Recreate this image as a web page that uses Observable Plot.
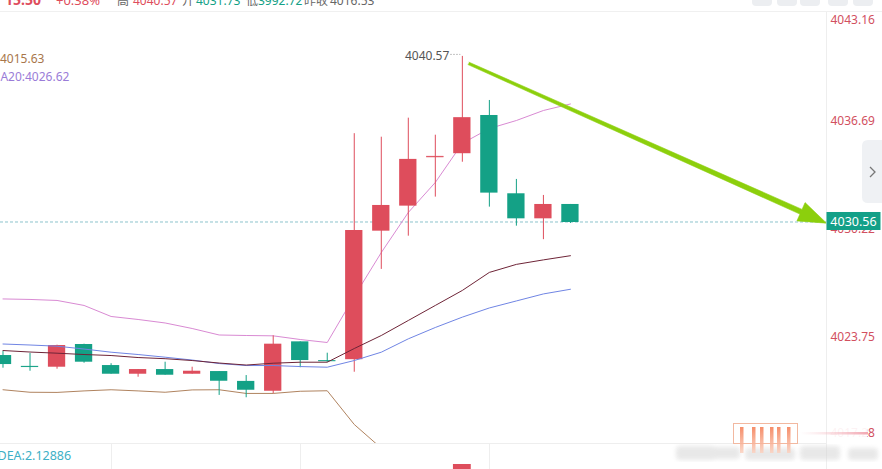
<!DOCTYPE html>
<html><head><meta charset="utf-8">
<script src="https://cdn.jsdelivr.net/npm/d3@7"></script>
<script src="https://cdn.jsdelivr.net/npm/@observablehq/plot@0.6"></script>
<style>
html,body{margin:0;padding:0;background:#fff;overflow:hidden}
#chart{position:relative;width:882px;height:469px;overflow:hidden}
</style></head><body><div id="chart"></div>
<script>
// ---- data ----
const openP  = [4022.65,4022.00,4021.95,4023.31,4022.05,4021.53,4021.81,4021.53,4021.69,4021.10,4020.51,4023.47,4022.35,4022.40,4030.10,4031.60,4034.54,4034.74,4037.03,4032.34,4030.84,4031.70];
const closeP = [4022.11,4021.98,4023.25,4022.25,4021.53,4021.81,4021.47,4021.71,4021.11,4020.57,4023.33,4022.35,4022.33,4030.14,4031.64,4034.40,4034.58,4036.90,4032.38,4030.84,4031.70,4030.62];
const highP  = [4022.89,4022.77,4023.27,4023.33,4022.16,4021.81,4022.25,4021.95,4021.69,4021.45,4023.83,4023.47,4022.79,4035.94,4035.73,4036.87,4035.85,4040.57,4037.93,4033.20,4032.24,4031.70];
const lowP   = [4021.89,4021.71,4021.83,4022.19,4021.53,4021.35,4021.47,4021.53,4020.26,4020.12,4020.36,4021.92,4022.23,4021.65,4027.81,4029.80,4032.14,4034.23,4031.54,4030.40,4029.59,4030.56];
const bollUp  = [4026.04,4026.01,4025.95,4025.65,4024.99,4024.81,4024.60,4024.27,4023.88,4023.85,4023.83,4023.61,4023.43,4026.19,4028.82,4031.22,4033.02,4035.36,4036.25,4036.73,4037.33,4037.72];
const ma20    = [4023.34,4023.28,4023.21,4023.04,4022.85,4022.71,4022.55,4022.38,4022.17,4022.05,4022.05,4021.99,4021.95,4022.35,4022.85,4023.65,4024.33,4024.95,4025.50,4025.92,4026.34,4026.62];
const bollDn  = [4020.60,4020.45,4020.44,4020.53,4020.60,4020.53,4020.45,4020.59,4020.60,4020.38,4020.38,4020.51,4020.54,4018.52,4017.10,4016.08,4015.64,4014.54,4014.75,4015.11,4015.35,4015.63];
const ma10    = [4022.95,4022.86,4022.79,4022.71,4022.65,4022.53,4022.46,4022.35,4022.20,4022.08,4022.19,4022.25,4022.25,4023.07,4023.85,4024.75,4025.65,4026.55,4027.63,4028.11,4028.38,4028.63];
const yTicks = [4043.16,4036.69,4030.22,4023.75,4017.28];
const lastPrice = 4030.56;
const highLabel = {i:17, p:4040.57};
const arrowFrom = {i:17.23, p:4040.15};
const arrowTo   = {i:30.48, p:4030.58};
const timeGrid = [4,11,18];
const macdBars = [{i:17, v:0.6}];
const legend = {dn:"4015.63", ma:"MA20:4026.62", dea:"DEA:2.12886"};

// ---- layout ----
const W=882,H=469,mL=0,mR=56,mT=12,mB=26;
const xDomain=[-0.0925,30.477], yDomain=[4017.38,4043.20];
const xs=d3.scaleLinear(xDomain,[mL,W-mR]);
const ys=d3.scaleLinear(yDomain,[H-mB,mT]);
const RED="#de4d5c", GREEN="#14a186";
const FONT="'Noto Sans','Noto Sans CJK SC',sans-serif";

const candles = openP.map((o,i)=>({i,open:o,close:closeP[i],high:highP[i],low:lowP[i],
  col: closeP[i]>o ? RED : GREEN, doji: Math.abs(closeP[i]-o)<0.05}));
const idx = d3.range(openP.length);

function arrowPoly(){
  const x0=xs(arrowFrom.i), y0=ys(arrowFrom.p), x1=xs(arrowTo.i), y1=ys(arrowTo.p);
  const dx=x1-x0, dy=y1-y0, L=Math.hypot(dx,dy), ux=dx/L, uy=dy/L, nx=-uy, ny=ux;
  const hl=28, hw=10, bx=x1-hl*ux, by=y1-hl*uy;
  const pts=[[x0+1.3*nx,y0+1.3*ny],[bx+2.6*nx,by+2.6*ny],[bx+hw*nx,by+hw*ny],[x1,y1],
             [bx-hw*nx,by-hw*ny],[bx-2.6*nx,by-2.6*ny],[x0-1.3*nx,y0-1.3*ny]];
  return pts.map(([a,b])=>({i:xs.invert(a),p:ys.invert(b)}));
}

const clampTick = d => Math.max(Math.min(d, yDomain[1]-0.45), yDomain[0]+0.62);

const plot = Plot.plot({
  width:W,height:H,marginLeft:mL,marginRight:mR,marginTop:mT,marginBottom:mB,
  x:{type:"linear",domain:xDomain,axis:null},
  y:{type:"linear",domain:yDomain,axis:null},
  style:{fontFamily:FONT,fontSize:"12px",background:"#fff",overflow:"visible"},
  marks:[
    Plot.ruleY([lastPrice],{stroke:"#8cc3cc",strokeWidth:1,strokeDasharray:"3,2",dy:-1.5}),
    Plot.line(idx,{x:i=>i,y:i=>bollDn[i],stroke:"#b0835f",strokeWidth:1,clip:true}),
    Plot.line(idx,{x:i=>i,y:i=>bollUp[i],stroke:"#d98ad3",strokeWidth:1,clip:true}),
    Plot.ruleX(candles,{x:"i",y1:"low",y2:"high",stroke:"col",strokeWidth:1}),
    Plot.rect(candles,{x1:d=>d.i-0.32,x2:d=>d.i+0.32,y1:"open",y2:"close",fill:"col"}),
    Plot.ruleY(candles.filter(d=>d.doji),{y:d=>(d.open+d.close)/2,x1:d=>d.i-0.32,x2:d=>d.i+0.32,stroke:"col",strokeWidth:1}),
    Plot.line(idx,{x:i=>i,y:i=>ma20[i],stroke:"#7085e4",strokeWidth:1,clip:true}),
    Plot.line(idx,{x:i=>i,y:i=>ma10[i],stroke:"#6e2437",strokeWidth:1,clip:true}),
    Plot.line(arrowPoly(),{x:"i",y:"p",fill:"#8ccf0c",stroke:"#8ccf0c",strokeWidth:0.6}),
    Plot.ruleY([highLabel],{y:"p",x1:d=>d.i-0.42,x2:d=>d.i-0.06,stroke:"#888",strokeDasharray:"1,2",dy:-2}),
    Plot.text([highLabel],{x:"i",y:"p",text:d=>d.p.toFixed(2),textAnchor:"end",dx:-13,fill:"#555",fontSize:12}),
    Plot.text(yTicks,{y:clampTick,text:d=>d.toFixed(2),frameAnchor:"right",dx:4,textAnchor:"start",fill:"#d2505f",fontSize:12})
  ]
});
document.getElementById("chart").appendChild(plot);

// ---- decorations (chrome of the trading screen) ----
const svg=d3.select(plot);
const defs=svg.append("defs");
defs.append("filter").attr("id","blur").append("feGaussianBlur").attr("stdDeviation",2.2);
const lg=defs.append("linearGradient").attr("id","pinkfade");
lg.append("stop").attr("offset","0%").attr("stop-color","#f7c6cc").attr("stop-opacity",0);
lg.append("stop").attr("offset","100%").attr("stop-color","#f2a7b2").attr("stop-opacity",1);
const bg=defs.append("linearGradient").attr("id","barg").attr("x1",0).attr("x2",0).attr("y1",0).attr("y2",1);
bg.append("stop").attr("offset","0%").attr("stop-color","#f47a50");
bg.append("stop").attr("offset","100%").attr("stop-color","#fbd3c2");

const g=svg.append("g").attr("text-anchor","start").attr("font-family",FONT);
g.append("line").attr("x1",0).attr("x2",W).attr("y1",mT-0.5).attr("y2",mT-0.5).attr("stroke","#f0f0f0");
g.append("line").attr("x1",W-mR+0.5).attr("x2",W-mR+0.5).attr("y1",mT).attr("y2",H).attr("stroke","#eeeeee");
g.append("line").attr("x1",0).attr("x2",W-mR).attr("y1",H-mB+0.5).attr("y2",H-mB+0.5).attr("stroke","#eeeeee");
timeGrid.forEach(t=>g.append("line").attr("x1",Math.round(xs(t))+0.5).attr("x2",Math.round(xs(t))+0.5)
  .attr("y1",H-mB+1).attr("y2",H).attr("stroke","#eeeeee"));
macdBars.forEach(b=>g.append("rect").attr("x",xs(b.i-0.33)).attr("width",xs(b.i+0.33)-xs(b.i-0.33))
  .attr("y",H-5).attr("height",5).attr("fill",RED));
g.append("text").attr("x",-2.5).attr("y",460).attr("font-size",12.5).attr("fill","#3db0c6").text(legend.dea);
g.append("text").attr("x",0).attr("y",63).attr("font-size",12).attr("fill","#a8764a").text(legend.dn);
g.append("text").attr("x",-10.5).attr("y",81).attr("font-size",12).attr("fill","#9a7cd8").text(legend.ma);
const hdr=[["15.50",5,RED,14,700],["+0.38%",56,RED,13,400],["高",117,"#666",12,400],["4040.57",133,RED,12,400],
  ["开",182,"#666",12,400],["4031.73",196,GREEN,12,400],["低",246,"#666",12,400],["3992.72",258,GREEN,12,400],
  ["昨收",304,"#666",12,400],["4016.53",330,"#666",12,400]];
hdr.forEach(([t,x,c,s,w])=>g.append("text").attr("x",x).attr("y",5).attr("font-size",s).attr("font-weight",w)
  .attr("fill",c).text(t));
[752,777,800,828,853].forEach(x=>g.append("rect").attr("x",x).attr("y",-14).attr("width",20).attr("height",20)
  .attr("rx",4).attr("fill","#eceef1"));
g.append("path").attr("d","M882,140 L868,140 Q862,140 862,146 L862,197 Q862,203 868,203 L882,203 Z").attr("fill","#eff1f4");
g.append("path").attr("d","M870,167 L875,172 L870,177").attr("fill","none").attr("stroke","#777").attr("stroke-width",1.3);
const ty=ys(lastPrice)-1.5;
g.append("rect").attr("x",W-mR+0.5).attr("y",ty-9.5).attr("width",54).attr("height",18).attr("fill","#13a088");
g.append("text").attr("x",W-mR+27.5).attr("y",ty).attr("dy","0.36em").attr("text-anchor","middle")
  .attr("font-size",12.5).attr("fill","#fff").text(lastPrice.toFixed(2));
g.append("rect").attr("x",827).attr("y",425).attr("width",40).attr("height",17).attr("fill","#fff").attr("opacity",0.93);
g.append("rect").attr("x",800).attr("y",432).attr("width",68).attr("height",2.5).attr("fill","url(#pinkfade)");
const wm=g.append("g").attr("filter","url(#blur)").attr("opacity",0.55);
[[676,446,40,14],[710,447,30,12],[745,448,50,12],[800,446,40,14],[848,448,30,12]].forEach(([x,y,w,h])=>
  wm.append("rect").attr("x",x).attr("y",y).attr("width",w).attr("height",h).attr("rx",4).attr("fill","#d6d6d6"));
g.append("rect").attr("x",733.5).attr("y",423.5).attr("width",64).attr("height",20).attr("fill","none").attr("stroke","#f2b8a0");
[740,752,760,770,777,787].forEach(x=>g.append("rect").attr("x",x).attr("y",427).attr("width",3.5).attr("height",26)
  .attr("fill","url(#barg)").attr("opacity",0.85));
</script></body></html>
